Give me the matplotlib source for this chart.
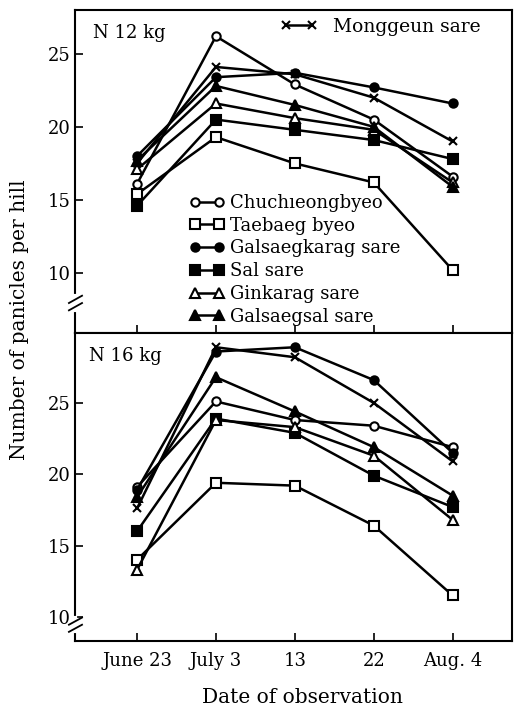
import matplotlib.pyplot as plt
import numpy as np

plt.rcParams['font.family'] = ['DejaVu Serif']

# observation dates (plotted evenly spaced, as in the figure)
dates = ["June 23", "July 3", "13", "22", "Aug. 4"]
xpos = np.arange(len(dates))

names = ["Chuchıeongbyeo", "Taebaeg byeo", "Galsaegkarag sare", "Sal sare",
         "Ginkarag sare", "Galsaegsal sare", "Monggeun sare"]

# N 12 kg
chuch12 = [16.1, 26.2, 22.9, 20.5, 16.6]
taebaeg12 = [15.4, 19.3, 17.5, 16.2, 10.2]
galkarag12 = [18.0, 23.4, 23.7, 22.7, 21.6]
sal12 = [14.6, 20.5, 19.8, 19.1, 17.8]
ginkarag12 = [17.1, 21.6, 20.6, 19.8, 16.2]
galsal12 = [17.7, 22.8, 21.5, 20.0, 15.9]
monggeun12 = [17.5, 24.1, 23.6, 22.0, 19.0]

# N 16 kg
chuch16 = [19.1, 25.1, 23.8, 23.4, 21.9]
taebaeg16 = [14.0, 19.4, 19.2, 16.4, 11.5]
galkarag16 = [18.9, 28.6, 28.9, 26.6, 21.5]
sal16 = [16.0, 23.9, 22.9, 19.9, 17.7]
ginkarag16 = [13.3, 23.8, 23.3, 21.3, 16.8]
galsal16 = [18.4, 26.8, 24.4, 21.9, 18.5]
monggeun16 = [17.6, 28.9, 28.2, 25.0, 20.9]

# marker, face colour, size
styles = [('o', 'white', 6), ('s', 'white', 6.5), ('o', 'black', 6),
          ('s', 'black', 7), ('^', 'white', 6.5), ('^', 'black', 7),
          ('x', 'black', 6)]

fig = plt.figure(figsize=(5.17, 7.10), dpi=100)
ax1 = fig.add_axes([0.146, 0.531, 0.844, 0.455])
ax2 = fig.add_axes([0.146, 0.097, 0.844, 0.434])

lines12 = []
for ax, series in [(ax1, [chuch12, taebaeg12, galkarag12, sal12, ginkarag12, galsal12, monggeun12]),
                   (ax2, [chuch16, taebaeg16, galkarag16, sal16, ginkarag16, galsal16, monggeun16])]:
    hs = []
    for vals, (m, fc, ms), name in zip(series, styles, names):
        h, = ax.plot(xpos, vals, color='black', lw=1.8, marker=m, mfc=fc,
                     mec='black', ms=ms, mew=1.5, label=name)
        hs.append(h)
    if ax is ax1:
        lines12 = hs
    ax.set_xlim(-0.78, 4.75)
    ax.set_xticks(xpos)
    ax.set_yticks([10, 15, 20, 25])
    ax.tick_params(direction='in', length=6, width=1.2, labelsize=13)
    for s in ax.spines.values():
        s.set_linewidth(1.5)

ax1.set_ylim(5.9, 28.0)
ax2.set_ylim(8.3, 29.9)
ax1.set_xticklabels([])
ax2.set_xticklabels(dates, fontsize=13)
ax2.tick_params(axis='x', pad=8)

ax1.text(0.04, 0.955, "N 12 kg", transform=ax1.transAxes, fontsize=13, va='top')
ax2.text(0.03, 0.955, "N 16 kg", transform=ax2.transAxes, fontsize=13, va='top')

# axis break marks on the left spine
for ax, yb in [(ax1, 8.2), (ax2, 9.7)]:
    tr = ax.get_yaxis_transform()
    ax.plot([0, 0], [yb - 0.7, yb + 0.2], color='white', lw=3,
            transform=tr, clip_on=False, zorder=5)
    ax.plot([-0.015, 0.015], [yb - 0.25, yb + 0.25], color='black', lw=1.3,
            transform=tr, clip_on=False, zorder=6)
    ax.plot([-0.015, 0.015], [yb - 0.75, yb - 0.25], color='black', lw=1.3,
            transform=tr, clip_on=False, zorder=6)

leg = ax1.legend(handles=lines12[:6], loc='upper left', bbox_to_anchor=(0.262, 0.43),
                 frameon=False, fontsize=13, numpoints=2, handlelength=1.9,
                 handletextpad=0.3, labelspacing=0.26, borderpad=0, borderaxespad=0)
ax1.add_artist(leg)
ax1.legend(handles=[lines12[6]], loc='upper left', bbox_to_anchor=(0.47, 0.975),
           frameon=False, fontsize=13.5, numpoints=2, handlelength=2.0,
           handletextpad=0.8, borderpad=0, borderaxespad=0)

fig.text(0.585, 0.018, "Date of observation", ha='center', va='center', fontsize=14.5)
fig.text(0.038, 0.55, "Number of panicles per hill", rotation=90, va='center',
         ha='center', fontsize=14.5)

fig.savefig("out.png", dpi=100)
